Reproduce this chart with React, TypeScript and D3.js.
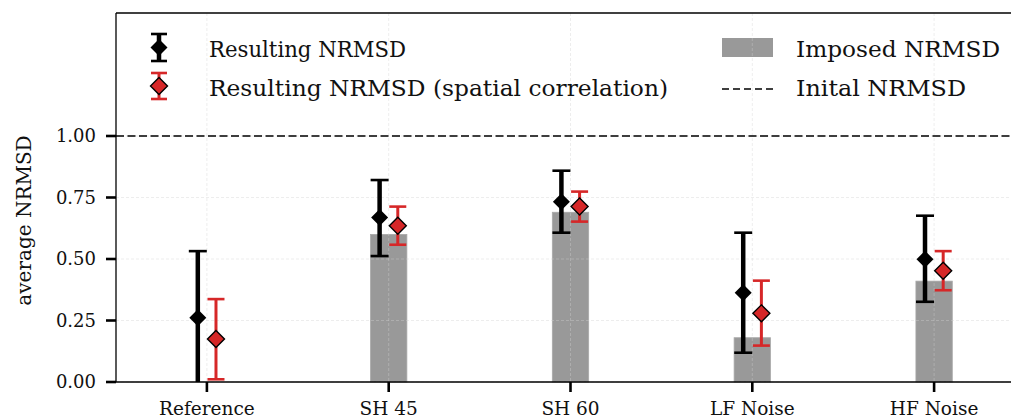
import React from 'react';
import * as d3 from 'd3';

const categories = ['Reference', 'SH 45', 'SH 60', 'LF Noise', 'HF Noise'];
const imposed = [0, 0.6, 0.69, 0.18, 0.41];
const resultMean = [0.261, 0.669, 0.733, 0.363, 0.499];
const resultLow = [-0.01, 0.512, 0.607, 0.119, 0.326];
const resultHigh = [0.532, 0.821, 0.859, 0.607, 0.676];
const spatialMean = [0.175, 0.635, 0.713, 0.279, 0.452];
const spatialLow = [0.011, 0.558, 0.652, 0.148, 0.373];
const spatialHigh = [0.337, 0.713, 0.774, 0.412, 0.532];
const yTicks = [0, 0.25, 0.5, 0.75, 1.0];
const initialValue = 1.0;
const legendLabels = ['Resulting NRMSD', 'Resulting NRMSD (spatial correlation)', 'Imposed NRMSD', 'Inital NRMSD'];

const W = 1011;
const H = 418;
const left = 116;
const top = 13;
const bottom = 382;
const FONT = '"DejaVu Serif", serif';
const RED = '#d62728';
const BAR = '#999999';
const TXT = '#111';

const diamond = (cx: number, cy: number, r: number) =>
  `M${cx},${cy - r}L${cx + r},${cy}L${cx},${cy + r}L${cx - r},${cy}Z`;

export default function App() {
  const x = d3.scaleLinear().domain([-0.5, 4.5]).range([left, 1025]);
  const y = d3.scaleLinear().domain([0, 1.5]).range([bottom, top]);
  const off = 0.05;
  const barW = x(0.2) - x(0);

  const errBar = (
    cx: number, lo: number, hi: number, color: string, lw: number, capW: number, key: string
  ) => (
    <g key={key}>
      <line x1={cx} x2={cx} y1={y(lo)} y2={y(hi)} stroke={color} strokeWidth={lw} />
      <line x1={cx - capW / 2} x2={cx + capW / 2} y1={y(lo)} y2={y(lo)} stroke={color} strokeWidth={2.6} />
      <line x1={cx - capW / 2} x2={cx + capW / 2} y1={y(hi)} y2={y(hi)} stroke={color} strokeWidth={2.6} />
    </g>
  );

  return (
    <svg width={W} height={H} style={{ position: 'absolute', left: 0, top: 0, background: '#fff' }}>
      <defs>
        <clipPath id="plot">
          <rect x={left} y={top} width={W - left} height={bottom - top} />
        </clipPath>
      </defs>
      {/* bars */}
      {categories.map((c, i) =>
        imposed[i] > 0 ? (
          <rect key={'b' + c} x={x(i) - barW / 2} y={y(imposed[i])} width={barW}
            height={y(0) - y(imposed[i])} fill={BAR} stroke="#a8a8a8" strokeWidth={0.8} />
        ) : null
      )}
      {/* legend patch (under grid) */}
      <rect x={722} y={38} width={51} height={19} fill={BAR} />
      {/* grid */}
      <g stroke="#cfcfcf" strokeOpacity={0.38} strokeWidth={1} strokeDasharray="3,2">
        {categories.map((c, i) => (
          <line key={'gx' + c} x1={x(i)} x2={x(i)} y1={top} y2={bottom} />
        ))}
        {yTicks.map((t) => (
          <line key={'gy' + t} x1={left} x2={W} y1={y(t)} y2={y(t)} />
        ))}
      </g>
      {/* initial dashed line */}
      <line x1={left} x2={W} y1={y(initialValue)} y2={y(initialValue)} stroke="#000"
        strokeWidth={1.6} strokeDasharray="8,3.5" />
      {/* error bars */}
      <g clipPath="url(#plot)">
        {categories.map((c, i) => errBar(x(i - off), resultLow[i], resultHigh[i], '#000', 4.5, 18, 'e1' + c))}
        {categories.map((c, i) => errBar(x(i + off), spatialLow[i], spatialHigh[i], RED, 3, 17, 'e2' + c))}
        {categories.map((c, i) => (
          <path key={'m1' + c} d={diamond(x(i - off), y(resultMean[i]), 8.5)} fill="#000" />
        ))}
        {categories.map((c, i) => (
          <path key={'m2' + c} d={diamond(x(i + off), y(spatialMean[i]), 8.5)} fill={RED}
            stroke="#000" strokeWidth={1.4} />
        ))}
      </g>
      {/* spines */}
      <g stroke="#000" strokeWidth={1.3} fill="none">
        <line x1={left} x2={left} y1={top} y2={bottom} />
        <line x1={left} x2={W} y1={bottom} y2={bottom} />
        <line x1={left} x2={W} y1={top} y2={top} />
      </g>
      {/* y ticks */}
      {yTicks.map((t) => (
        <g key={'yt' + t}>
          <line x1={left - 10} x2={left} y1={y(t)} y2={y(t)} stroke="#000" strokeWidth={2.6} />
          <text x={left - 20} y={y(t)} dy="0.36em" textAnchor="end" fontFamily={FONT}
            fontSize={18} fill={TXT}>{d3.format('.2f')(t)}</text>
        </g>
      ))}
      {/* x ticks */}
      {categories.map((c, i) => (
        <g key={'xt' + c}>
          <line x1={x(i)} x2={x(i)} y1={bottom} y2={bottom + 10} stroke="#000" strokeWidth={2.6} />
          <text x={x(i)} y={415} textAnchor="middle" fontFamily={FONT} fontSize={18.5} fill={TXT}>{c}</text>
        </g>
      ))}
      {/* y label */}
      <text transform={`translate(31,${(top + bottom) / 2 + 23}) rotate(-90)`} textAnchor="middle"
        fontFamily={FONT} fontSize={20} fill={TXT}>average NRMSD</text>
      {/* legend */}
      <g>
        <line x1={159} x2={159} y1={34} y2={61} stroke="#000" strokeWidth={4.5} />
        <line x1={151} x2={167} y1={34} y2={34} stroke="#000" strokeWidth={2.6} />
        <line x1={151} x2={167} y1={61} y2={61} stroke="#000" strokeWidth={2.6} />
        <path d={diamond(159, 47.5, 8.5)} fill="#000" />
        <text x={209} y={57} fontFamily={FONT} fontSize={22.5} fill={TXT}
          textLength={197} lengthAdjust="spacingAndGlyphs">{legendLabels[0]}</text>

        <line x1={159} x2={159} y1={73} y2={99} stroke={RED} strokeWidth={3} />
        <line x1={151} x2={167} y1={73} y2={73} stroke={RED} strokeWidth={2.6} />
        <line x1={151} x2={167} y1={99} y2={99} stroke={RED} strokeWidth={2.6} />
        <path d={diamond(159, 86, 8.5)} fill={RED} stroke="#000" strokeWidth={1.4} />
        <text x={209} y={96} fontFamily={FONT} fontSize={22.5} fill={TXT}
          textLength={459} lengthAdjust="spacingAndGlyphs">{legendLabels[1]}</text>

        <text x={796} y={57} fontFamily={FONT} fontSize={22.5} fill={TXT}
          textLength={204} lengthAdjust="spacingAndGlyphs">{legendLabels[2]}</text>
        <line x1={722} x2={773} y1={89} y2={89} stroke="#000" strokeWidth={1.6} strokeDasharray="7,4" />
        <text x={796} y={96} fontFamily={FONT} fontSize={22.5} fill={TXT}
          textLength={170} lengthAdjust="spacingAndGlyphs">{legendLabels[3]}</text>
      </g>
    </svg>
  );
}
